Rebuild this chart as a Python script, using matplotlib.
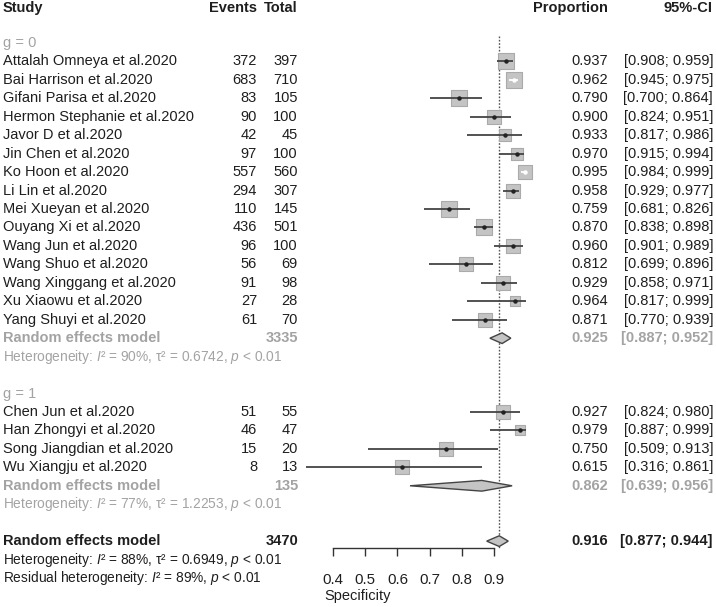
import matplotlib
matplotlib.use('Agg')
import matplotlib.pyplot as plt
import matplotlib.transforms as mtransforms
from matplotlib.patches import Polygon
import numpy as np

plt.rcParams['font.family'] = ['Liberation Sans', 'DejaVu Sans']
plt.rcParams['mathtext.fontset'] = 'custom'
plt.rcParams['mathtext.rm'] = 'Liberation Sans'
plt.rcParams['mathtext.it'] = 'Liberation Sans:italic'
plt.rcParams['mathtext.bf'] = 'Liberation Sans:bold'

# ---------------- data ----------------
studies_g0 = ["Attalah Omneya et al.2020", "Bai Harrison et al.2020", "Gifani Parisa et al.2020",
              "Hermon Stephanie et al.2020", "Javor D et al.2020", "Jin Chen et al.2020",
              "Ko Hoon et al.2020", "Li Lin et al.2020", "Mei Xueyan et al.2020",
              "Ouyang Xi et al.2020", "Wang Jun et al.2020", "Wang Shuo et al.2020",
              "Wang Xinggang et al.2020", "Xu Xiaowu et al.2020", "Yang Shuyi et al.2020"]
events_g0 = [372, 683, 83, 90, 42, 97, 557, 294, 110, 436, 96, 56, 91, 27, 61]
total_g0 = [397, 710, 105, 100, 45, 100, 560, 307, 145, 501, 100, 69, 98, 28, 70]
prop_g0 = [0.937, 0.962, 0.790, 0.900, 0.933, 0.970, 0.995, 0.958, 0.759, 0.870, 0.960, 0.812, 0.929, 0.964, 0.871]
lower_g0 = [0.908, 0.945, 0.700, 0.824, 0.817, 0.915, 0.984, 0.929, 0.681, 0.838, 0.901, 0.699, 0.858, 0.817, 0.770]
upper_g0 = [0.959, 0.975, 0.864, 0.951, 0.986, 0.994, 0.999, 0.977, 0.826, 0.898, 0.989, 0.896, 0.971, 0.999, 0.939]

studies_g1 = ["Chen Jun et al.2020", "Han Zhongyi et al.2020", "Song Jiangdian et al.2020", "Wu Xiangju et al.2020"]
events_g1 = [51, 46, 15, 8]
total_g1 = [55, 47, 20, 13]
prop_g1 = [0.927, 0.979, 0.750, 0.615]
lower_g1 = [0.824, 0.887, 0.509, 0.316]
upper_g1 = [0.980, 0.999, 0.913, 0.861]

group_labels = ["g = 0", "g = 1"]
group_total = [3335, 135]
group_est = [0.925, 0.862]
group_lower = [0.887, 0.639]
group_upper = [0.952, 0.956]
group_i2 = ["90%", "77%"]
group_tau2 = ["0.6742", "1.2253"]

overall_total = 3470
overall_est = 0.916
overall_lower = 0.877
overall_upper = 0.944
overall_i2 = "88%"
overall_tau2 = 0.6949
overall_tau2_label = "0.6949"
resid_i2 = "89%"

xticks = [0.4, 0.5, 0.6, 0.7, 0.8, 0.9]
xtick_labels = ["0.4", "0.5", "0.6", "0.7", "0.8", "0.9"]
xlabel = "Specificity"

# ---------------- styling ----------------
BLACK = '#1e1e1e'
GRAY = '#a3a3a3'
BOX_FILL = '#c4c4c4'
BOX_EDGE = '#aaaaaa'
LINE_COL = '#444444'
FS = 10.5
FS_SMALL = 9.9

fig = plt.figure(figsize=(7.16, 6.07), dpi=100)
ax = fig.add_axes([0, 0, 1, 1])
ax.set_xlim(-0.634, 1.589)
ax.set_ylim(32.57, -0.33)
ax.patch.set_alpha(0)

px_per_x = 322.0  # pixels per unit of proportion

trans = mtransforms.blended_transform_factory(fig.transFigure, ax.transData)
X_STUDY = 3 / 716
X_EVENTS = 257 / 716
X_TOTAL = 298 / 716
X_PROP = 608 / 716
X_CI = 713 / 716


def txt(x, y, s, ha='left', color=BLACK, weight='normal', size=FS):
    ax.text(x, y, s, transform=trans, ha=ha, va='center', color=color,
            fontweight=weight, fontsize=size)


def ci_str(lo, hi):
    return "[%.3f; %.3f]" % (lo, hi)


# header
HDR = 0.12
txt(X_STUDY, HDR, "Study", weight='bold')
txt(X_EVENTS, HDR, "Events", ha='right', weight='bold')
txt(X_TOTAL, HDR, "Total", ha='right', weight='bold')
txt(X_PROP, HDR, "Proportion", ha='right', weight='bold')
txt(X_CI, HDR, "95%-CI", ha='right', weight='bold')

groups = [
    (studies_g0, events_g0, total_g0, prop_g0, lower_g0, upper_g0),
    (studies_g1, events_g1, total_g1, prop_g1, lower_g1, upper_g1),
]


def diamond(y, lo, est, hi, half_h=0.29):
    poly = Polygon([[lo, y], [est, y - half_h], [hi, y], [est, y + half_h]],
                   closed=True, facecolor=BOX_FILL, edgecolor='#444444', lw=1.0, zorder=4)
    ax.add_patch(poly)


row = 2
for gi, (names, ev, tot, p, lo, hi) in enumerate(groups):
    txt(X_STUDY, row, group_labels[gi], color=GRAY)
    row += 1
    for k in range(len(names)):
        txt(X_STUDY, row, names[k])
        txt(X_EVENTS, row, str(ev[k]), ha='right')
        txt(X_TOTAL, row, str(tot[k]), ha='right')
        txt(X_PROP, row, "%.3f" % p[k], ha='right')
        txt(X_CI, row, ci_str(lo[k], hi[k]), ha='right')
        # random-effects weight (logit scale) for box size
        pk = ev[k] / tot[k]
        var = 1.0 / (tot[k] * pk * (1 - pk))
        w = 1.0 / (var + overall_tau2)
        side_px = 13.2 * np.sqrt(w)
        half_x = side_px / 2 / px_per_x
        inside = (p[k] - lo[k] < half_x) and (hi[k] - p[k] < half_x)
        ax.scatter([p[k]], [row], marker='s', s=(side_px * 0.72) ** 2,
                   facecolor=BOX_FILL, edgecolor=BOX_EDGE, linewidths=0.8, zorder=3)
        ax.hlines(row, lo[k], hi[k], color='white' if inside else LINE_COL, lw=1.3, zorder=4)
        ax.plot([p[k]], [row], marker='o', ms=2.2, color='white' if inside else '#222222',
                zorder=5, lw=0)
        row += 1
    # subgroup summary
    txt(X_STUDY, row, "Random effects model", color=GRAY, weight='bold')
    txt(X_TOTAL, row, str(group_total[gi]), ha='right', color=GRAY, weight='bold')
    txt(X_PROP, row, "%.3f" % group_est[gi], ha='right', color=GRAY, weight='bold')
    txt(X_CI, row, ci_str(group_lower[gi], group_upper[gi]), ha='right', color=GRAY, weight='bold')
    diamond(row, group_lower[gi], group_est[gi], group_upper[gi])
    row += 1
    txt(X_STUDY, row, "Heterogeneity: $I$\u00b2 = %s, τ\u00b2 = %s, $p$ < 0.01" % (group_i2[gi], group_tau2[gi]),
        color=GRAY, size=FS_SMALL)
    row += 2

# overall
overall_row = row
txt(X_STUDY, row, "Random effects model", weight='bold')
txt(X_TOTAL, row, str(overall_total), ha='right', weight='bold')
txt(X_PROP, row, "%.3f" % overall_est, ha='right', weight='bold')
txt(X_CI, row, ci_str(overall_lower, overall_upper), ha='right', weight='bold')
diamond(row, overall_lower, overall_est, overall_upper)
row += 1
txt(X_STUDY, row, "Heterogeneity: $I$\u00b2 = %s, τ\u00b2 = %s, $p$ < 0.01" % (overall_i2, overall_tau2_label),
    size=FS_SMALL)
row += 1
txt(X_STUDY, row, "Residual heterogeneity: $I$\u00b2 = %s, $p$ < 0.01" % resid_i2, size=FS_SMALL)

axis_row = overall_row + 0.37
ax.vlines(overall_est, 1.6, axis_row, color='#555555', lw=1.0, linestyles=(0, (1.2, 1.2)), zorder=2)

# axis
for s in ['top', 'left', 'right']:
    ax.spines[s].set_visible(False)
ax.spines['bottom'].set_position(('data', axis_row))
ax.spines['bottom'].set_bounds(xticks[0], xticks[-1])
ax.spines['bottom'].set_color('#333333')
ax.spines['bottom'].set_linewidth(1.0)
ax.set_xticks(xticks)
ax.set_xticklabels(xtick_labels)
ax.set_yticks([])
ax.tick_params(axis='x', direction='out', length=5.8, width=1.0, colors='#333333',
               labelcolor=BLACK, pad=12.5, labelsize=10.8)
ax.set_xlabel(xlabel, fontsize=FS, color=BLACK, labelpad=1)

fig.savefig('out.png', dpi=100)
